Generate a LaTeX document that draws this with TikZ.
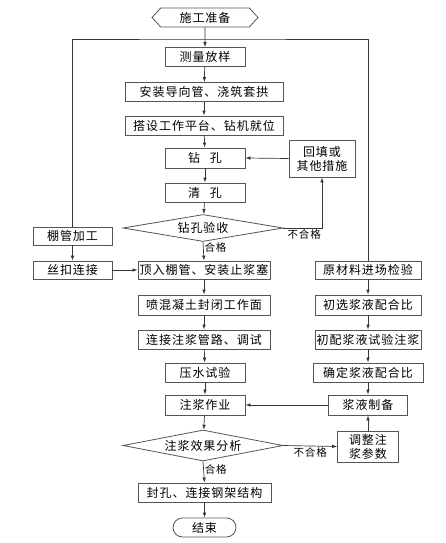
\documentclass[tikz,border=0pt]{standalone}
\usepackage{fontspec}
\setmainfont{Noto Sans CJK SC}[LetterSpace=8]
\usetikzlibrary{arrows.meta,positioning,shapes.geometric,shapes.symbols,shapes.misc}
\definecolor{LineGray}{RGB}{55,55,55}
\definecolor{BoxGray}{RGB}{85,85,85}

\begin{document}
\begin{tikzpicture}[x=1pt, y=-1pt, >={Latex[length=5pt,width=3.6pt]},
  font=\fontsize{12}{14}\selectfont,
  box/.style={draw=BoxGray, line width=0.8pt, fill=white, inner sep=0.5pt,
              minimum height=19pt, align=center},
  chk/.style={draw=BoxGray, line width=0.8pt, diamond, aspect=6, inner sep=1pt,
              minimum width=160pt},
  hexa/.style={draw=BoxGray, line width=0.8pt, signal, signal to=west and east,
               signal pointer angle=95, inner sep=1pt, minimum height=19pt},
  term/.style={draw=BoxGray, line width=0.8pt, rounded rectangle, inner sep=1pt,
               minimum height=19pt},
  sig/.style={->, draw=LineGray, line width=0.7pt},
  wire/.style={draw=LineGray, line width=0.7pt},
  lab/.style={font=\fontsize{10.5}{12}\selectfont, inner sep=1pt}]

  \useasboundingbox (0,0) rectangle (445,543);

  % main column
  \node[hexa, minimum width=106pt] (start) at (205,17.5) {施工准备};
  \node[box, minimum width=80pt]  (clfy) at (205,57)    {测量放样};
  \node[box, minimum width=158pt] (azdx) at (204,92)    {安装导向管、浇筑套拱};
  \node[box, minimum width=158pt] (dspt) at (204,125.5) {搭设工作平台、钻机就位};
  \node[box, minimum width=80pt, minimum height=20pt] (zk) at (205,158) {钻\hspace{0.8em}孔};
  \node[box, minimum width=80pt]  (qk)   at (205,192.5) {清\hspace{0.8em}孔};
  \node[chk, minimum height=27pt] (zkys) at (203,228)   {钻孔验收};
  \node[box, minimum width=132pt, minimum height=18pt] (drpg) at (204,270) {顶入棚管、安装止浆塞};
  \node[box, minimum width=132pt, minimum height=20pt] (phnt) at (204,305) {喷混凝土封闭工作面};
  \node[box, minimum width=132pt] (ljgl) at (204,339.5) {连接注浆管路、调试};
  \node[box, minimum width=80pt]  (ysy)  at (205,372.5) {压水试验};
  \node[box, minimum width=80pt, minimum height=20pt] (zjzy) at (205,405) {注浆作业};
  \node[chk, minimum height=31pt] (zjfx) at (203,445.5) {注浆效果分析};
  \node[box, minimum width=133pt] (fkgj) at (204.5,492.5) {封孔、连接钢架结构};
  \node[term, minimum width=65pt] (end)  at (204.5,527.5) {结束};

  % side columns
  \node[box, minimum width=66pt, minimum height=37pt] (htcs) at (322,158.5) {回填或\\其他措施};
  \node[box, minimum width=79pt, minimum height=18pt] (pgjg) at (72.5,236) {棚管加工};
  \node[box, minimum width=79pt, minimum height=18pt] (skLj) at (72.5,270) {丝扣连接};
  \node[box, minimum width=106pt, minimum height=18pt] (ycl) at (368,270) {原材料进场检验};
  \node[box, minimum width=106pt, minimum height=20pt] (cxpb) at (368,305) {初选浆液配合比};
  \node[box, minimum width=106pt] (cpzj) at (368,339.5) {初配浆液试验注浆};
  \node[box, minimum width=110pt] (qdpb) at (368,372.5) {确定浆液配合比};
  \node[box, minimum width=79pt, minimum height=20pt] (jyzb) at (368,405) {浆液制备};
  \node[box, minimum width=61pt, minimum height=31pt] (tzcs) at (368,446.5) {调整注\\浆参数};

  \coordinate (frame) at (205,39);

  \draw[sig] (start) -- (clfy);
  \draw[wire] (pgjg.north) |- (frame) -| (ycl.north);
  \draw[sig] (clfy) -- (azdx);
  \draw[sig] (azdx) -- (dspt);
  \draw[sig] (dspt) -- (zk);
  \draw[sig] (zk) -- (qk);
  \draw[sig] (qk) -- (zkys);
  \draw[sig] (zkys.east) -| node[lab, pos=0.27, below]{不合格} (htcs.south);
  \draw[sig] (htcs.west) -- (zk.east);
  \draw[sig] (zkys.south) -- node[lab, pos=0.3, right]{合格} (drpg.north);
  \draw[sig] (pgjg) -- (skLj);
  \draw[sig] (skLj) -- (drpg);
  \draw[sig] (drpg) -- (phnt);
  \draw[sig] (phnt) -- (ljgl);
  \draw[sig] (ljgl) -- (ysy);
  \draw[sig] (ysy) -- (zjzy);
  \draw[sig] (zjzy) -- (zjfx);
  \draw[sig] (zjfx.south) -- node[lab, pos=0.36, right]{合格} (fkgj.north);
  \draw[sig] (fkgj) -- (end);

  \draw[sig] (ycl) -- (cxpb);
  \draw[sig] (cxpb) -- (cpzj);
  \draw[sig] (cpzj) -- (qdpb);
  \draw[sig] (qdpb) -- (jyzb);
  \draw[sig] (jyzb) -- (zjzy);
  \draw[sig] (zjfx.east) -- node[lab, below]{不合格} (tzcs.west);
  \draw[sig] (tzcs) -- (jyzb);
\end{tikzpicture}
\end{document}
